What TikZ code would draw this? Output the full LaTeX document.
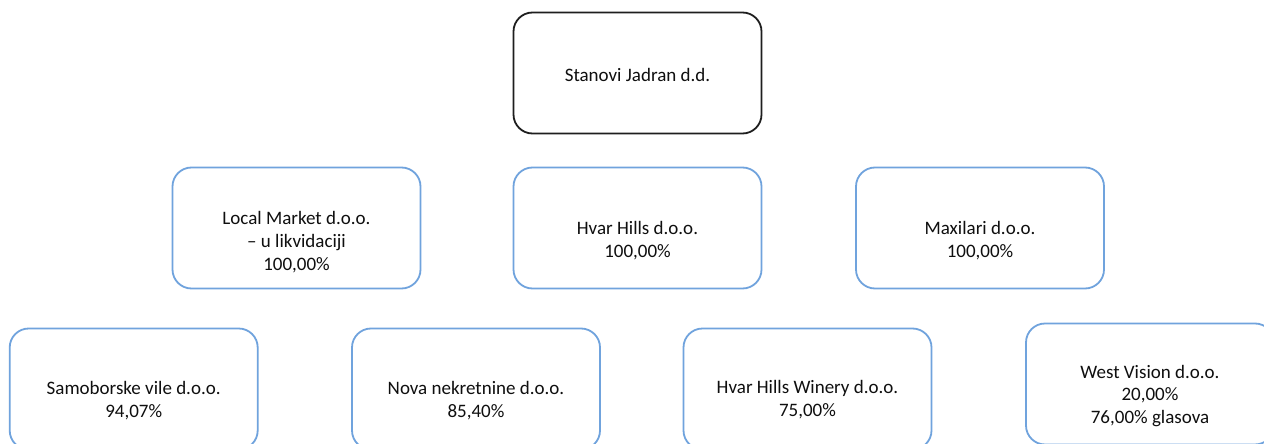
\documentclass[tikz,border=0pt]{standalone}
\usepackage{fontspec}
\setmainfont{Carlito}
\definecolor{boxblue}{RGB}{112,163,221}
\definecolor{boxblack}{RGB}{30,30,30}
\definecolor{textcol}{RGB}{15,15,15}
\begin{document}
\begin{tikzpicture}[x=1pt,y=-1pt,
  box/.style={draw=boxblue, line width=1.8pt, rounded corners=19pt,
    minimum width=248pt, minimum height=121pt, inner sep=0pt, fill=white},
  topbox/.style={box, draw=boxblack},
  txt/.style={font=\fontsize{19}{22.8}\selectfont, align=center, text=textcol, inner sep=0pt}]
\useasboundingbox (0,0) rectangle (1264,444);
\fill[white] (0,0) rectangle (1264,444);
\clip (0,0) rectangle (1264,444);
% boxes
\node[topbox] (sj) at (637.5,73) {};
\node[box] (lm) at (296.5,228) {};
\node[box] (hh) at (637.5,228) {};
\node[box] (mx) at (980,228) {};
\node[box] (sv) at (133.7,389) {};
\node[box] (nn) at (476,389) {};
\node[box] (hw) at (807.5,389) {};
\node[box] (wv) at (1150,384) {};
% texts
\node[txt] (sjt) at (637.5,75) {Stanovi Jadran d.d.};
\node[txt] (lmt) at (296.5,242) {Local Market d.o.o.\\– u likvidaciji\\100,00\%};
\node[txt] (hht) at (637.5,241) {Hvar Hills d.o.o.\\100,00\%};
\node[txt] (mxt) at (980,241) {Maxilari d.o.o.\\100,00\%};
\node[txt] (svt) at (133.7,401) {Samoborske vile d.o.o.\\94,07\%};
\node[txt] (nnt) at (476,401) {Nova nekretnine d.o.o.\\85,40\%};
\node[txt] (hwt) at (807.5,400) {Hvar Hills Winery d.o.o.\\75,00\%};
\node[txt] (wvt) at (1150,396) {West Vision d.o.o.\\20,00\%\\76,00\% glasova};
\end{tikzpicture}
\end{document}
